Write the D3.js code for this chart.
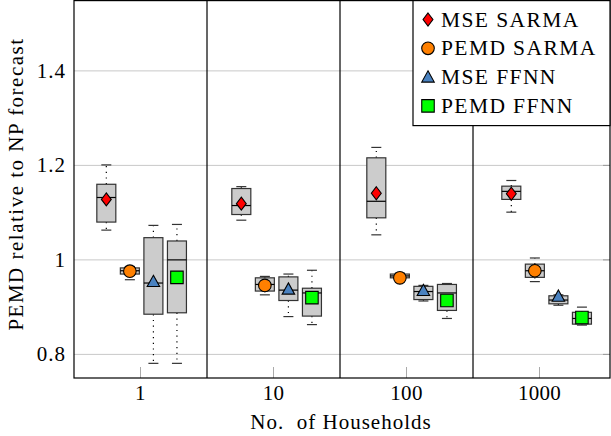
<!DOCTYPE html>
<meta charset="utf-8">
<style>
body { margin: 0; background: #fff; }
text { font-family: "Liberation Serif", "Times New Roman", serif; fill: #000; }
.grid line { stroke: #c8c8c8; stroke-width: 1; }
.box { fill: #cccccc; stroke: #333; stroke-width: 1.2; }
.whisker { stroke: #000; stroke-width: 1.2; stroke-dasharray: 1.2,4.5; }
.cap { stroke: #333; stroke-width: 1.2; }
.median { stroke: #000; stroke-width: 1.2; }
.mark { stroke: #000; stroke-width: 1.1; }
</style>
<svg id="chart" width="611" height="436"></svg>
<script src="https://d3js.org/d3.v7.min.js"></script>
<script>

var households = ["1", "10", "100", "1000"];
var series = ["MSE SARMA", "PEMD SARMA", "MSE FFNN", "PEMD FFNN"];
var yTicks = [0.8, 1, 1.2, 1.4];

// per series, one entry per household group: [low whisker, q1, median, q3, high whisker]
var mseSarma  = [[1.063, 1.080, 1.132, 1.160, 1.201], [1.084, 1.096, 1.115, 1.151, 1.155], [1.053, 1.089, 1.124, 1.216, 1.238], [1.101, 1.128, 1.145, 1.156, 1.168]];
var pemdSarma = [[0.958, 0.970, 0.977, 0.983, 0.986], [0.926, 0.934, 0.948, 0.962, 0.965], [0.958, 0.962, 0.966, 0.970, 0.972], [0.954, 0.963, 0.977, 0.991, 1.004]];
var mseFfnn   = [[0.781, 0.885, 0.951, 1.047, 1.073], [0.880, 0.914, 0.936, 0.964, 0.970], [0.913, 0.916, 0.933, 0.944, 0.946], [0.904, 0.907, 0.915, 0.924, 0.926]];
var pemdFfnn  = [[0.781, 0.888, 1.000, 1.040, 1.075], [0.863, 0.881, 0.930, 0.940, 0.978], [0.876, 0.893, 0.930, 0.948, 0.950], [0.862, 0.864, 0.876, 0.889, 0.900]];

// means (markers)
var mseSarmaMean  = [1.128, 1.119, 1.141, 1.140];
var pemdSarmaMean = [0.976, 0.946, 0.962, 0.977];
var mseFfnnMean   = [0.952, 0.936, 0.933, 0.921];
var pemdFfnnMean  = [0.963, 0.920, 0.914, 0.878];

var boxes = [mseSarma, pemdSarma, mseFfnn, pemdFfnn];
var means = [mseSarmaMean, pemdSarmaMean, mseFfnnMean, pemdFfnnMean];
var colors = ["#ff0000", "#ff8000", "#4a82c0", "#00ff00"];

var svg = d3.select("#chart"),
    pLeft = 74, pRight = 610, pTop = 0, pBottom = 378;

var x = d3.scaleLinear().domain([-0.5, 3.53]).range([pLeft, pRight]);
var y = d3.scaleLinear().domain([0.75, 1.55]).range([pBottom, pTop]);

// offsets of the four boxes around each decade (log units)
var offsets = [-0.257, -0.08, 0.097, 0.274];
function boxX(g, s) { return x(g * 1.015 + offsets[s]); }

var boxW = 19, capW = 10;

// grid
svg.append("g").attr("class", "grid")
  .selectAll("line").data(yTicks).enter().append("line")
    .attr("x1", pLeft).attr("x2", pRight)
    .attr("y1", function(d) { return y(d); })
    .attr("y2", function(d) { return y(d); });

// ticks
svg.append("g").selectAll("line").data(households).enter().append("line")
    .attr("x1", function(d, i) { return x(i); })
    .attr("x2", function(d, i) { return x(i); })
    .attr("y1", pBottom).attr("y2", pBottom - 11)
    .attr("stroke", "#aaa").attr("stroke-width", 1);
svg.append("g").selectAll("line").data(yTicks).enter().append("line")
    .attr("x1", pRight - 7).attr("x2", pRight)
    .attr("y1", function(d) { return y(d); })
    .attr("y2", function(d) { return y(d); })
    .attr("stroke", "#999").attr("stroke-width", 1);

// group separators
svg.append("g").selectAll("line").data([0.5, 1.5, 2.5]).enter().append("line")
    .attr("x1", function(d) { return x(d); })
    .attr("x2", function(d) { return x(d); })
    .attr("y1", pTop).attr("y2", pBottom)
    .attr("stroke", "#000").attr("stroke-width", 1.2);

// marker shapes
var markerPath = [
  function(s) { return "M0," + (-s * 0.5) + "L" + (s * 0.38) + ",0L0," + (s * 0.5) + "L" + (-s * 0.38) + ",0Z"; },
  null,
  function(s) { return "M0," + (-s * 0.5) + "L" + (s * 0.5) + "," + (s * 0.4) + "L" + (-s * 0.5) + "," + (s * 0.4) + "Z"; },
  function(s) { return "M" + (-s / 2) + "," + (-s / 2) + "h" + s + "v" + s + "h" + (-s) + "Z"; }
];
var markerSize = [13, 12.6, 12.5, 12.5];

function drawMarker(g, s, cx, cy) {
  if (s === 1) {
    g.append("circle").attr("class", "mark").attr("cx", cx).attr("cy", cy)
      .attr("r", markerSize[s] / 2).attr("fill", colors[s]);
  } else {
    g.append("path").attr("class", "mark")
      .attr("transform", "translate(" + cx + "," + (s === 2 ? cy - 1 : cy) + ")")
      .attr("d", markerPath[s](markerSize[s])).attr("fill", colors[s]);
  }
}

// boxplots
var plot = svg.append("g");
boxes.forEach(function(serie, s) {
  serie.forEach(function(b, g) {
    var cx = boxX(g, s);
    var grp = plot.append("g");
    grp.append("line").attr("class", "whisker")
      .attr("x1", cx).attr("x2", cx).attr("y1", y(b[3])).attr("y2", y(b[4]));
    grp.append("line").attr("class", "whisker")
      .attr("x1", cx).attr("x2", cx).attr("y1", y(b[1])).attr("y2", y(b[0]));
    [b[0], b[4]].forEach(function(v) {
      grp.append("line").attr("class", "cap")
        .attr("x1", cx - capW / 2).attr("x2", cx + capW / 2)
        .attr("y1", y(v)).attr("y2", y(v));
    });
    grp.append("rect").attr("class", "box")
      .attr("x", cx - boxW / 2).attr("width", boxW)
      .attr("y", y(b[3])).attr("height", y(b[1]) - y(b[3]));
    grp.append("line").attr("class", "median")
      .attr("x1", cx - boxW / 2).attr("x2", cx + boxW / 2)
      .attr("y1", y(b[2])).attr("y2", y(b[2]));
  });
});
means.forEach(function(m, s) {
  m.forEach(function(v, g) { drawMarker(plot, s, boxX(g, s), y(v)); });
});

// frame
svg.append("rect").attr("x", pLeft).attr("y", pTop + 0.6)
    .attr("width", pRight - pLeft).attr("height", pBottom - pTop - 0.6)
    .attr("fill", "none").attr("stroke", "#000").attr("stroke-width", 1.2);

// tick labels
svg.append("g").selectAll("text").data(yTicks).enter().append("text")
    .attr("x", 66).attr("y", function(d) { return y(d) + 7; })
    .attr("text-anchor", "end").attr("font-size", 21).attr("letter-spacing", 1)
    .text(function(d) { return d3.format("")(d); });
svg.append("g").selectAll("text").data(households).enter().append("text")
    .attr("x", function(d, i) { return x(i); }).attr("y", 400)
    .attr("text-anchor", "middle").attr("font-size", 21).attr("letter-spacing", 0.3)
    .text(function(d) { return d; });

// axis labels
svg.append("text").attr("x", 341).attr("y", 429)
    .attr("text-anchor", "middle").attr("font-size", 21).attr("letter-spacing", 1)
    .style("white-space", "pre").text("No.  of Households");
svg.append("text").attr("transform", "translate(23,184) rotate(-90)")
    .attr("text-anchor", "middle").attr("font-size", 21).attr("letter-spacing", 1.5)
    .text("PEMD relative to NP forecast");

// legend
var legend = svg.append("g");
legend.append("rect").attr("x", 413).attr("y", 0.6).attr("width", pRight - 413).attr("height", 125)
    .attr("fill", "#fff").attr("stroke", "#000").attr("stroke-width", 1.2);
series.forEach(function(name, s) {
  var cy = 19.5 + s * 28.8;
  drawMarker(legend, s, 428, s === 2 ? cy + 1 : cy);
  legend.append("text").attr("x", 441).attr("y", cy + 7)
    .attr("font-size", 21.5).attr("letter-spacing", 1.4).text(name);
});
</script>
